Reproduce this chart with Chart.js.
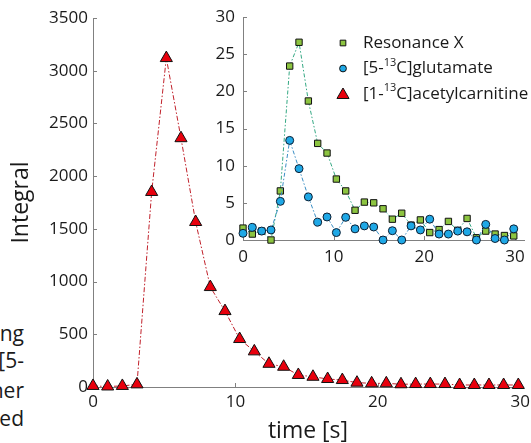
<!DOCTYPE html>
<html>
<head>
<meta charset="utf-8">
<script src="https://cdn.jsdelivr.net/npm/chart.js@4.4.0/dist/chart.umd.min.js"></script>
<style>
  html, body { margin: 0; padding: 0; background: #fff; }
  body { width: 531px; height: 443px; position: relative; overflow: hidden; font-family: "Open Sans", sans-serif; }
  #main { position: absolute; left: 0; top: 0; }
  #inset { position: absolute; left: 190px; top: 0; }
  .frag { position: absolute; right: 507px; font-size: 21px; line-height: 1; color: #1a1a1a; white-space: nowrap; }
</style>
</head>
<body>
<div class="frag" style="top:323px">ng</div>
<div class="frag" style="top:350px">[5-</div>
<div class="frag" style="top:380px">her</div>
<div class="frag" style="top:408px">ed</div>
<canvas id="main" width="531" height="443"></canvas>
<canvas id="inset" width="341" height="275"></canvas>
<script>
// acquisition times [s]
const times = [0, 1.03, 2.06, 3.09, 4.12, 5.15, 6.18, 7.21, 8.24, 9.27,
               10.3, 11.33, 12.36, 13.39, 14.42, 15.45, 16.48, 17.51, 18.54, 19.57,
               20.6, 21.63, 22.66, 23.69, 24.72, 25.75, 26.78, 27.81, 28.84, 29.87];

// main plot
const acetylcarnitine = [10, 5, 10, 25, 1850, 3120, 2360, 1565, 948, 720,
                         455, 338, 220, 192, 114, 97, 76, 66, 41, 35,
                         35, 26, 28, 28, 28, 19, 19, 19, 19, 19];

// inset
const resonanceX = [1.6, 0.8, 1.2, 0, 6.6, 23.4, 26.6, 18.7, 13.0, 11.7,
                    8.2, 6.6, 4.0, 5.1, 5.0, 4.2, 2.8, 3.6, 2.0, 2.7,
                    1.0, 1.4, 2.5, 1.3, 2.9, 0.3, 1.2, 0.8, 0.6, 0.55];
const glutamate = [0.9, 1.7, 1.2, 1.35, 5.2, 13.4, 9.6, 5.8, 2.4, 3.1,
                   1.0, 3.05, 1.5, 1.9, 1.75, 0, 1.25, 0, 1.9, 1.35,
                   2.8, 0.8, 0.8, 1.2, 1.1, 0, 2.1, 0.2, 0, 1.5];

const mainXTicks = [0, 10, 20, 30];
const mainYTicks = [0, 500, 1000, 1500, 2000, 2500, 3000, 3500];
const insetXTicks = [0, 10, 20, 30];
const insetYTicks = [0, 5, 10, 15, 20, 25, 30];

// legend text: before superscript, superscript, after
const legendRows = [
  { style: 'rect', pre: 'Resonance X', sup: '', post: '' },
  { style: 'circle', pre: '[5-', sup: '13', post: 'C]glutamate' },
  { style: 'triangle', pre: '[1-', sup: '13', post: 'C]acetylcarnitine' }
];

const textColor = '#1a1a1a';
const axisColor = '#808080';
const redFill = '#e8000d', greenFill = '#8cc440', blueFill = '#1fa8e6';

Chart.defaults.font.family = '"Open Sans", sans-serif';
Chart.defaults.font.size = 17;
Chart.defaults.color = textColor;

const toPoints = ys => times.map((t, i) => ({ x: t, y: ys[i] }));
const plain = v => String(v);

// matlab-style ticks pointing into the plot
const inwardTicks = {
  id: 'inwardTicks',
  beforeDatasetsDraw(chart) {
    const { ctx } = chart;
    const xs = chart.scales.x, ys = chart.scales.y;
    ctx.save();
    ctx.strokeStyle = axisColor;
    ctx.lineWidth = 1;
    ctx.beginPath();
    xs.ticks.forEach(t => {
      const px = Math.round(xs.getPixelForValue(t.value)) + 0.5;
      ctx.moveTo(px, ys.bottom);
      ctx.lineTo(px, ys.bottom - 4);
    });
    ys.ticks.forEach(t => {
      const py = Math.round(ys.getPixelForValue(t.value)) + 0.5;
      ctx.moveTo(xs.left, py);
      ctx.lineTo(xs.left + 4, py);
    });
    ctx.stroke();
    ctx.restore();
  }
};

const legendStyles = {
  rect: { fill: greenFill, radius: 4 },
  circle: { fill: blueFill, radius: 3.4 },
  triangle: { fill: redFill, radius: 7 }
};

const insetLegend = {
  id: 'insetLegend',
  afterDraw(chart) {
    const { ctx, chartArea } = chart;
    const mx = chartArea.left + 100;
    const tx = chartArea.left + 120;
    legendRows.forEach((row, i) => {
      const y = chartArea.top + 26 + i * 25.5;
      const st = legendStyles[row.style];
      ctx.save();
      ctx.fillStyle = st.fill;
      ctx.strokeStyle = '#111';
      ctx.lineWidth = 1;
      Chart.helpers.drawPoint(ctx, { pointStyle: row.style, radius: st.radius, borderWidth: 1, rotation: 0 }, mx, y + (row.style === 'triangle' ? 1 : 0));
      ctx.fillStyle = textColor;
      ctx.textBaseline = 'middle';
      ctx.textAlign = 'left';
      ctx.font = '17px "Open Sans"';
      let x = tx;
      ctx.fillText(row.pre, x, y);
      x += ctx.measureText(row.pre).width;
      if (row.sup) {
        ctx.font = '11px "Open Sans"';
        ctx.fillText(row.sup, x, y - 6);
        x += ctx.measureText(row.sup).width;
        ctx.font = '17px "Open Sans"';
        ctx.fillText(row.post, x, y);
      }
      ctx.restore();
    });
  }
};

function axis(opts) {
  return Object.assign({
    type: 'linear',
    grid: { display: true, drawOnChartArea: false, drawTicks: false },
    border: { color: axisColor, width: 1 }
  }, opts);
}

new Chart(document.getElementById('main'), {
  type: 'line',
  data: {
    datasets: [{
      label: '[1-13C]acetylcarnitine',
      data: toPoints(acetylcarnitine),
      borderColor: '#c0202a',
      borderWidth: 1,
      borderDash: [5, 2, 1.5, 2],
      pointStyle: 'triangle',
      pointRadius: 7,
      pointBackgroundColor: redFill,
      pointBorderColor: '#111',
      pointBorderWidth: 1,
      clip: false
    }]
  },
  options: {
    responsive: false,
    animation: false,
    events: [],
    layout: { padding: { left: 0, right: 8, top: 18, bottom: 0 } },
    plugins: { legend: { display: false }, tooltip: { enabled: false } },
    scales: {
      x: axis({
        min: 0, max: 30.2,
        afterBuildTicks: s => { s.ticks = mainXTicks.map(v => ({ value: v })); },
        afterFit: s => { s.height = 56; s.paddingLeft = 0; s.paddingRight = 0; },
        ticks: { color: textColor, padding: 5, maxRotation: 0, autoSkip: false, callback: plain },
        title: { display: true, text: 'time [s]', color: textColor, font: { size: 23, lineHeight: 1 }, padding: { top: 0, bottom: 0 } }
      }),
      y: axis({
        min: 0, max: 3500,
        afterBuildTicks: s => { s.ticks = mainYTicks.map(v => ({ value: v })); },
        afterFit: s => { s.width = 93; s.paddingTop = 0; s.paddingBottom = 0; },
        ticks: { color: textColor, padding: 5, autoSkip: false, callback: plain },
        title: { display: true, text: 'Integral', color: textColor, font: { size: 23, lineHeight: 1 }, padding: { top: 9.5, bottom: 0 } }
      })
    }
  },
  plugins: [inwardTicks]
});

new Chart(document.getElementById('inset'), {
  type: 'line',
  data: {
    datasets: [{
      label: '[5-13C]glutamate',
      data: toPoints(glutamate),
      order: 0,
      borderColor: '#3a8ec4',
      borderWidth: 1,
      borderDash: [4, 2, 1.5, 2],
      pointStyle: 'circle',
      pointRadius: 4,
      pointBackgroundColor: blueFill,
      pointBorderColor: '#0d1f33',
      pointBorderWidth: 1,
      clip: false
    }, {
      label: 'Resonance X',
      data: toPoints(resonanceX),
      order: 1,
      borderColor: '#34a883',
      borderWidth: 1,
      borderDash: [4, 2, 1.5, 2],
      pointStyle: 'rect',
      pointRadius: 4.5,
      pointBackgroundColor: greenFill,
      pointBorderColor: '#111',
      pointBorderWidth: 1,
      clip: false
    }]
  },
  options: {
    responsive: false,
    animation: false,
    events: [],
    layout: { padding: { left: 0, right: 7, top: 17, bottom: 0 } },
    plugins: { legend: { display: false }, tooltip: { enabled: false } },
    scales: {
      x: axis({
        min: 0, max: 31,
        afterBuildTicks: s => { s.ticks = insetXTicks.map(v => ({ value: v })); },
        afterFit: s => { s.height = 35; s.paddingLeft = 0; s.paddingRight = 0; },
        ticks: { color: textColor, padding: 6.5, maxRotation: 0, autoSkip: false, callback: plain }
      }),
      y: axis({
        min: 0, max: 30,
        afterBuildTicks: s => { s.ticks = insetYTicks.map(v => ({ value: v })); },
        afterFit: s => { s.width = 53; s.paddingTop = 0; s.paddingBottom = 0; },
        ticks: { color: textColor, padding: 8, autoSkip: false, callback: plain }
      })
    }
  },
  plugins: [inwardTicks, insetLegend]
});
</script>
</body>
</html>
